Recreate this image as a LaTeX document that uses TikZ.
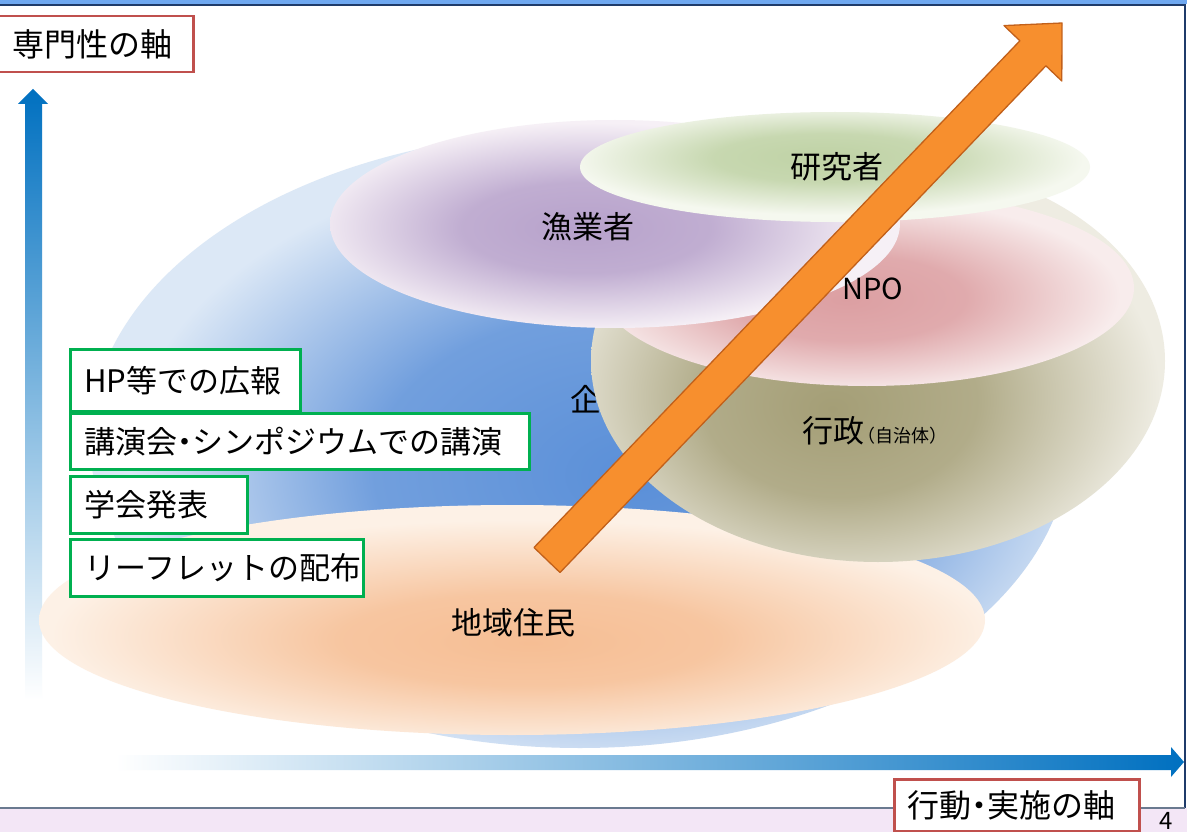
\documentclass[tikz,border=0pt]{standalone}
\usepackage{fontspec}
\setmainfont{Noto Sans CJK JP}
\usetikzlibrary{calc}

\definecolor{topband}{HTML}{6FA8F0}
\definecolor{frameline}{HTML}{1F3B6A}
\definecolor{frameline2}{HTML}{6A7A90}
\definecolor{lavender}{HTML}{F3E6F6}
\definecolor{axisblue}{HTML}{0070C0}
\definecolor{redboxc}{HTML}{C0504D}
\definecolor{greenboxc}{HTML}{00B050}
\definecolor{arroworange}{HTML}{F78F2E}
\definecolor{arrowedge}{HTML}{C2601A}

\definecolor{blueC}{HTML}{5A8FD8}
\definecolor{blueE}{HTML}{DCE8F6}
\definecolor{oranC}{HTML}{F6BE94}
\definecolor{oranE}{HTML}{FDF1E6}
\definecolor{khakiC}{HTML}{A49E76}
\definecolor{khakiE}{HTML}{EEECE2}
\definecolor{pinkC}{HTML}{DC9FA2}
\definecolor{pinkE}{HTML}{F8ECEC}
\definecolor{purpC}{HTML}{B7A2CB}
\definecolor{purpE}{HTML}{F6F0F6}
\definecolor{greenC}{HTML}{BFD2A5}
\definecolor{greenE}{HTML}{F5F8EF}

\pgfdeclareradialshading{blueshade}{\pgfpoint{3bp}{-3bp}}{color(0bp)=(blueC); color(13bp)=(blueC!82!blueE); color(25bp)=(blueE); color(70bp)=(blueE)}
\pgfdeclareradialshading{oranshade}{\pgfpoint{1bp}{-5bp}}{color(0bp)=(oranC); color(10bp)=(oranC!85!oranE); color(25bp)=(oranE); color(70bp)=(oranE)}
\pgfdeclareradialshading{khakishade}{\pgfpoint{-4bp}{-6bp}}{color(0bp)=(khakiC); color(12bp)=(khakiC!82!khakiE); color(27bp)=(khakiE); color(70bp)=(khakiE)}
\pgfdeclareradialshading{pinkshade}{\pgfpoint{-2bp}{-3bp}}{color(0bp)=(pinkC); color(11bp)=(pinkC!85!pinkE); color(25bp)=(pinkE); color(70bp)=(pinkE)}
\pgfdeclareradialshading{purpshade}{\pgfpoint{-3bp}{-1bp}}{color(0bp)=(purpC); color(11bp)=(purpC!85!purpE); color(25bp)=(purpE); color(70bp)=(purpE)}
\pgfdeclareradialshading{greenshade}{\pgfpoint{-1bp}{5bp}}{color(0bp)=(greenC); color(11bp)=(greenC!85!greenE); color(25bp)=(greenE); color(70bp)=(greenE)}

\newcommand{\hdot}{\makebox[0.5em][c]{・}}

\tikzset{
  gbox/.style={draw=greenboxc, line width=2.8pt, fill=white, inner sep=0pt, anchor=north west,
    font=\fontsize{31pt}{31pt}\selectfont},
  rbox/.style={draw=redboxc, line width=2.5pt, fill=white, inner sep=0pt, anchor=north west,
    font=\fontsize{32pt}{32pt}\selectfont},
  lbl/.style={font=\fontsize{31pt}{31pt}\selectfont, inner sep=0pt},
}

\begin{document}
\begin{tikzpicture}[x=1pt,y=-1pt]
\useasboundingbox (0,0) rectangle (1187,832);
\fill[white] (0,0) rectangle (1187,832);

% frame
\fill[topband] (0,0) rectangle (1187,4.5);
\draw[frameline, line width=1.5pt] (0,5) -- (1185,5) -- (1185,808);
\fill[lavender] (0,808) rectangle (1187,832);
\draw[frameline2, line width=1.5pt] (0,808) -- (1185,808);

% axes
\shade[top color=axisblue, bottom color=white]
  (25,700) -- (25,104) -- (18,104) -- (33,89) -- (48,104) -- (42,104) -- (42,700) -- cycle;
\shade[left color=white, right color=axisblue]
  (115,755) -- (1171,755) -- (1171,747) -- (1184,762) -- (1171,777) -- (1171,770) -- (115,770) -- cycle;

% ellipses
\shade[shading=blueshade] (580,440) ellipse [x radius=490pt, y radius=308pt];
\node[lbl, anchor=west] (kigyo) at (570,400) {企業};
\shade[shading=oranshade] (512,620) ellipse [x radius=473pt, y radius=115pt];
\shade[shading=khakishade] (878,361) ellipse [x radius=287pt, y radius=201pt];
\shade[shading=pinkshade] (867,288) ellipse [x radius=267pt, y radius=98pt];
\shade[shading=purpshade] (615,224) ellipse [x radius=285pt, y radius=104pt];
\shade[shading=greenshade] (835,167) ellipse [x radius=255pt, y radius=55pt];

% labels
\node[lbl] (gyogyo) at (588,227) {漁業者};
\node[lbl] (kenkyu) at (837,167) {研究者};
\node[lbl, font=\fontsize{29pt}{29pt}\selectfont] (npo) at (873,289) {NPO};
\node[lbl, anchor=west] (gyosei) at (802,431) {行政{\fontsize{18pt}{18pt}\selectfont\hspace*{-7pt}（自治体）}};
\node[lbl] (jumin) at (513,623) {地域住民};

% orange arrow
\coordinate (tailA) at (534.0,547.5);
\coordinate (tailB) at (560.0,572.5);
\coordinate (neckA) at (1019.9,40.8);
\coordinate (neckB) at (1045.9,65.8);
\coordinate (barbA) at (1004.0,25.6);
\coordinate (barbB) at (1061.8,81.0);
\coordinate (tip) at (1062,23);
\fill[black, opacity=0.15, shift={(2,3)}] (tailA) -- (neckA) -- (barbA) -- (tip) -- (barbB) -- (neckB) -- (tailB) -- cycle;
\draw[arrowedge, line width=1.3pt, fill=arroworange, line join=round]
  (tailA) -- (neckA) -- (barbA) -- (tip) -- (barbB) -- (neckB) -- (tailB) -- cycle;

% green boxes
\node[gbox, minimum height=62pt] (hp) at (69,348) {\makebox[230pt][l]{\hspace*{14pt}HP等での広報}};
\node[gbox, minimum height=56pt] (koen) at (69,412) {\makebox[459pt][l]{\hspace*{14pt}講演会\hdot シンポジウムでの講演}};
\node[gbox, minimum height=57pt] (gakkai) at (69,475) {\makebox[177pt][l]{\hspace*{14pt}学会発表}};
\node[gbox, minimum height=57pt] (leaf) at (69,538) {\makebox[293pt][l]{\hspace*{14pt}リーフレットの配布}};

% axis labels
\node[rbox, minimum height=56pt] (yaxis) at (-3,15) {\makebox[195pt][l]{\hspace*{14pt}専門性の軸}};
\node[rbox, minimum height=52pt] (xaxis) at (893,778) {\makebox[245pt][l]{\hspace*{13pt}行動\hdot 実施の軸}};

\node[font=\fontsize{24pt}{24pt}\selectfont, inner sep=0pt] (pagenum) at (1166,821) {4};
\end{tikzpicture}
\end{document}
